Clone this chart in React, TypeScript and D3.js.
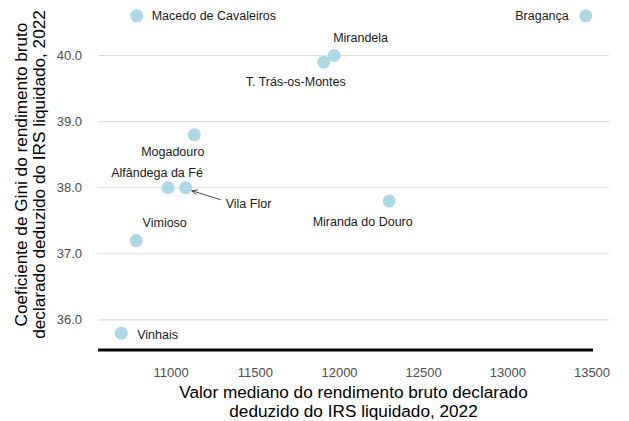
import { useEffect, useRef } from 'react';
import * as d3 from 'd3';

// Municipalities of the Terras de Trás-os-Montes region
const names = [
  'Macedo de Cavaleiros', 'Bragança', 'Mirandela', 'T. Trás-os-Montes', 'Mogadouro',
  'Alfândega da Fé', 'Vila Flor', 'Miranda do Douro', 'Vimioso', 'Vinhais',
];
const medianIncome = [10795, 13463, 11968, 11906, 11137, 10981, 11086, 12295, 10792, 10703];
const gini = [40.6, 40.6, 40.0, 39.9, 38.8, 38.0, 38.0, 37.8, 37.2, 35.8];

const xTicks = [11000, 11500, 12000, 12500, 13000, 13500];
const yTicks = [36, 37, 38, 39, 40];

// repel-style label placement (pixel offsets from the point)
const LABEL_POS: Record<string, { dx: number; dy: number; anchor: string }> = {
  'Macedo de Cavaleiros': { dx: 15, dy: 0, anchor: 'start' },
  'Bragança': { dx: -17, dy: 0, anchor: 'end' },
  'Mirandela': { dx: -1, dy: -18, anchor: 'start' },
  'T. Trás-os-Montes': { dx: -28, dy: 19, anchor: 'middle' },
  'Mogadouro': { dx: -21.5, dy: 17, anchor: 'middle' },
  'Alfândega da Fé': { dx: -11, dy: -15, anchor: 'middle' },
  'Vila Flor': { dx: 40, dy: 16, anchor: 'start' },
  'Miranda do Douro': { dx: -26.5, dy: 21, anchor: 'middle' },
  'Vimioso': { dx: 28.5, dy: -18, anchor: 'middle' },
  'Vinhais': { dx: 16, dy: 1, anchor: 'start' },
};

const COLORS = {
  point: '#ADD8E6',
  grid: '#DEDEDE',
  tick: '#4D4D4D',
  text: '#1A1A1A',
};

const FONT = '"Liberation Sans", Arial, sans-serif';

export default function App() {
  const svgRef = useRef<SVGSVGElement>(null);
  const width = 629;
  const height = 421;

  useEffect(() => {
    if (!svgRef.current) return;
    const svg = d3.select(svgRef.current);
    svg.selectAll('*').remove();

    const panel = { left: 98, right: 609, top: 0, bottom: 349 };

    const data = names.map((n, i) => ({ name: n, x: medianIncome[i], y: gini[i] }));

    const xExt = d3.extent(medianIncome) as [number, number];
    const yExt = d3.extent(gini) as [number, number];
    const xPad = (xExt[1] - xExt[0]) * 0.05;
    const yPad = (yExt[1] - yExt[0]) * 0.05;

    const x = d3.scaleLinear().domain([xExt[0] - xPad, xExt[1] + xPad]).range([panel.left, panel.right]);
    const y = d3.scaleLinear().domain([yExt[0] - yPad, yExt[1] + yPad]).range([panel.bottom, panel.top]);

    // Horizontal grid
    svg.append('g')
      .selectAll('line')
      .data(yTicks)
      .join('line')
      .attr('x1', panel.left).attr('x2', panel.right)
      .attr('y1', d => y(d)).attr('y2', d => y(d))
      .attr('stroke', COLORS.grid)
      .attr('stroke-width', 1.1);

    // Bottom axis line
    svg.append('line')
      .attr('x1', panel.left).attr('x2', x(13500) + 1)
      .attr('y1', 350).attr('y2', 350)
      .attr('stroke', '#000')
      .attr('stroke-width', 2.8);

    // Tick labels
    svg.append('g')
      .selectAll('text')
      .data(yTicks)
      .join('text')
      .attr('x', 82)
      .attr('y', d => y(d))
      .attr('dy', '0.35em')
      .attr('text-anchor', 'end')
      .style('font-family', FONT)
      .style('font-size', '13px')
      .style('fill', COLORS.tick)
      .text(d => d3.format('.1f')(d));

    svg.append('g')
      .selectAll('text')
      .data(xTicks)
      .join('text')
      .attr('x', d => x(d))
      .attr('y', 377)
      .attr('text-anchor', 'middle')
      .style('font-family', FONT)
      .style('font-size', '13px')
      .style('fill', COLORS.tick)
      .text(d => String(d));

    // Axis titles
    const xTitle = svg.append('text')
      .attr('text-anchor', 'middle')
      .style('font-family', FONT)
      .style('font-size', '17.2px')
      .style('fill', '#000');
    xTitle.append('tspan').attr('x', (panel.left + panel.right) / 2).attr('y', 398)
      .text('Valor mediano do rendimento bruto declarado');
    xTitle.append('tspan').attr('x', (panel.left + panel.right) / 2).attr('y', 417)
      .text('deduzido do IRS liquidado, 2022');

    const cy = (panel.top + panel.bottom) / 2;
    const yTitle = svg.append('text')
      .attr('transform', `translate(0,${cy}) rotate(-90)`)
      .attr('text-anchor', 'middle')
      .style('font-family', FONT)
      .style('font-size', '17.2px')
      .style('fill', '#000');
    yTitle.append('tspan').attr('x', 0).attr('y', 27)
      .text('Coeficiente de Gini do rendimento bruto');
    yTitle.append('tspan').attr('x', 0).attr('y', 45)
      .text('declarado deduzido do IRS liquidado, 2022');

    // Arrow marker for connector
    svg.append('defs').append('marker')
      .attr('id', 'arr')
      .attr('viewBox', '0 0 10 10')
      .attr('refX', 9).attr('refY', 5)
      .attr('markerWidth', 7).attr('markerHeight', 7)
      .attr('orient', 'auto')
      .append('path')
      .attr('d', 'M0,1 L9,5 L0,9')
      .attr('fill', 'none')
      .attr('stroke', '#333')
      .attr('stroke-width', 1.3);

    // Points
    svg.append('g')
      .selectAll('circle')
      .data(data)
      .join('circle')
      .attr('cx', d => x(d.x))
      .attr('cy', d => y(d.y))
      .attr('r', 6.5)
      .attr('fill', COLORS.point);

    // Connector for Vila Flor
    const vf = data.find(d => d.name === 'Vila Flor')!;
    svg.append('line')
      .attr('x1', x(vf.x) + 35).attr('y1', y(vf.y) + 12)
      .attr('x2', x(vf.x) + 6).attr('y2', y(vf.y) + 3)
      .attr('stroke', '#333')
      .attr('stroke-width', 0.9)
      .attr('marker-end', 'url(#arr)');

    // Labels
    svg.append('g')
      .selectAll('text')
      .data(data)
      .join('text')
      .attr('x', d => x(d.x) + LABEL_POS[d.name].dx)
      .attr('y', d => y(d.y) + LABEL_POS[d.name].dy)
      .attr('dy', '0.35em')
      .attr('text-anchor', d => LABEL_POS[d.name].anchor)
      .style('font-family', FONT)
      .style('font-size', '12.5px')
      .style('fill', COLORS.text)
      .text(d => d.name);
  }, []);

  return (
    <svg ref={svgRef} width={width} height={height}
      style={{ position: 'absolute', left: 0, top: 0, background: '#fff' }} />
  );
}
